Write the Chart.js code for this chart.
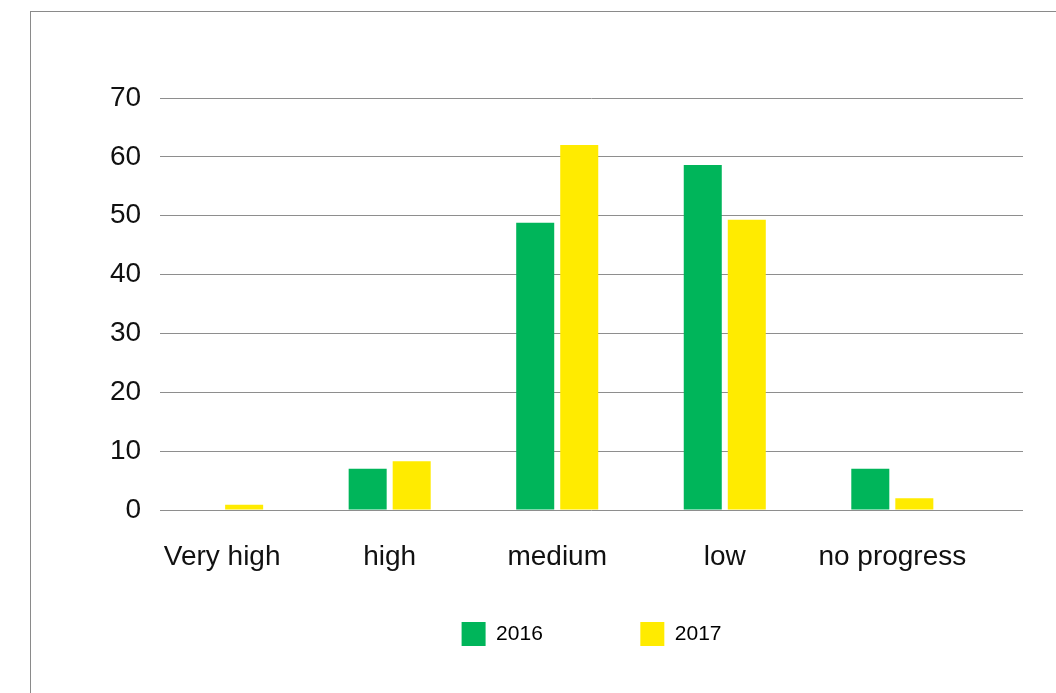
<!DOCTYPE html>
<html>
<head>
<meta charset="utf-8">
<script src="https://cdn.jsdelivr.net/npm/chart.js@4/dist/chart.umd.min.js"></script>
<style>
  html, body { margin: 0; padding: 0; background: #fff; overflow: hidden; }
  #frame {
    position: absolute; left: 30px; top: 11px;
    width: 1100px; height: 720px;
    border: 1px solid #8a8a8a;
  }
  #wrap { position: absolute; left: 31px; top: 12px; width: 1000px; height: 680px; }
</style>
</head>
<body>
<div id="frame"></div>
<div id="wrap"><canvas id="myChart"></canvas></div>
<script>
// 진행 단계별 건수 (2016 / 2017)
const categories = ['Very high', 'high', 'medium', 'low', 'no progress'];
const values2016 = [0, 7, 48.8, 58.6, 7];
const values2017 = [0.9, 8.3, 62, 49.3, 2];
const yTicks = [0, 10, 20, 30, 40, 50, 60, 70];

// 카테고리 인덱스를 x 값으로 사용 (선형 축)
const toPoints = vals => vals.map((v, i) => ({ x: i, y: v }));

const font = 'Helvetica, "Liberation Sans", Arial, sans-serif';

window.onload = function() {
    const ctx = document.getElementById('myChart').getContext('2d');
    new Chart(ctx, {
        type: 'bar',
        data: {
            datasets: [{
                label: '2016',
                data: toPoints(values2016),
                backgroundColor: '#00b55a'
            }, {
                label: '2017',
                data: toPoints(values2017),
                backgroundColor: '#ffeb00'
            }]
        },
        options: {
            responsive: true,
            maintainAspectRatio: false,
            animation: false,
            categoryPercentage: 0.5255,
            barPercentage: 0.8636,
            layout: { padding: { left: 60, right: 8, top: 86, bottom: 36 } },
            scales: {
                x: {
                    type: 'linear',
                    min: -0.37,
                    max: 4.78,
                    offset: false,
                    bounds: 'data',
                    grid: { display: false, drawTicks: false, offset: false },
                    border: { display: false },
                    afterBuildTicks: scale => {
                        scale.ticks = categories.map((c, i) => ({ value: i }));
                    },
                    afterFit: scale => { scale.height = 102; },
                    ticks: {
                        autoSkip: false,
                        maxRotation: 0,
                        padding: 30,
                        color: '#111',
                        font: { family: font, size: 28 },
                        callback: v => categories[v]
                    }
                },
                y: {
                    min: 0,
                    max: 70,
                    afterBuildTicks: scale => {
                        scale.ticks = yTicks.map(v => ({ value: v }));
                    },
                    grid: { color: '#8e8e8e', lineWidth: 1, drawTicks: false },
                    border: { display: false },
                    ticks: {
                        padding: 19,
                        color: '#111',
                        font: { family: font, size: 28 }
                    }
                }
            },
            plugins: {
                tooltip: { enabled: false },
                legend: {
                    position: 'bottom',
                    fullSize: false,
                    labels: {
                        boxWidth: 24,
                        boxHeight: 24,
                        padding: 10,
                        color: '#111',
                        font: { family: font, size: 21 },
                        generateLabels: chart => chart.data.datasets.map((ds, i) => ({
                            // 첫 항목 뒤 공백으로 범례 간격을 넓힘
                            text: i === 0 ? ds.label + '               ' : ds.label,
                            fillStyle: ds.backgroundColor,
                            strokeStyle: ds.backgroundColor,
                            lineWidth: 0,
                            datasetIndex: i
                        }))
                    }
                }
            }
        }
    });
};
</script>
</body>
</html>
